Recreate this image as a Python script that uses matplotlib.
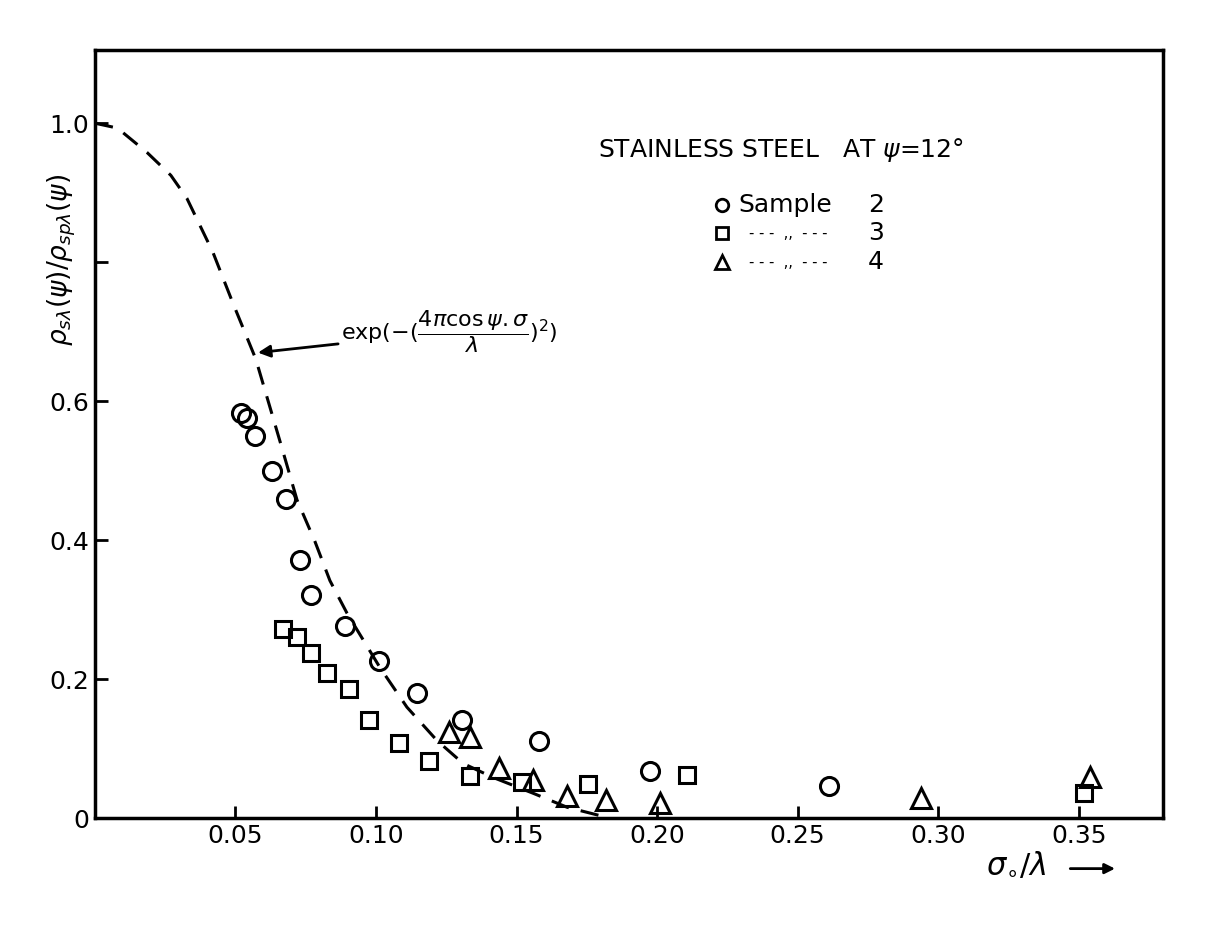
import matplotlib
matplotlib.use("Agg")
import matplotlib.pyplot as plt

# sample 2 (circles)
s2_x = [0.052, 0.054, 0.057, 0.063, 0.068, 0.073, 0.077, 0.089, 0.101,
        0.1146, 0.1306, 0.158, 0.1975, 0.261]
s2_y = [0.583, 0.576, 0.550, 0.500, 0.460, 0.372, 0.322, 0.277, 0.226,
        0.180, 0.142, 0.111, 0.068, 0.046]

# sample 3 (squares)
s3_x = [0.067, 0.072, 0.077, 0.0825, 0.0905, 0.0975, 0.108, 0.119,
        0.1335, 0.152, 0.1755, 0.2107, 0.352]
s3_y = [0.272, 0.261, 0.238, 0.209, 0.186, 0.141, 0.108, 0.083,
        0.061, 0.052, 0.049, 0.062, 0.036]

# sample 4 (triangles)
s4_x = [0.126, 0.1335, 0.1438, 0.156, 0.168, 0.182, 0.201, 0.294, 0.354]
s4_y = [0.124, 0.117, 0.072, 0.055, 0.032, 0.027, 0.022, 0.030, 0.060]

# dashed theory curve
curve_x = [0.0, 0.008, 0.0185, 0.027, 0.0327, 0.042, 0.049, 0.0572, 0.0663,
           0.0719, 0.0783, 0.0836, 0.0897, 0.1014, 0.111, 0.1217, 0.131,
           0.1416, 0.156, 0.168, 0.1797]
curve_y = [1.0, 0.993, 0.958, 0.925, 0.892, 0.814, 0.742, 0.661, 0.536,
           0.458, 0.398, 0.342, 0.295, 0.217, 0.160, 0.112, 0.079,
           0.059, 0.036, 0.016, 0.004]

xticks = [0.05, 0.10, 0.15, 0.20, 0.25, 0.30, 0.35]
xtick_labels = ['0.05', '0.10', '0.15', '0.20', '0.25', '0.30', '0.35']
yticks = [0.0, 0.2, 0.4, 0.6, 0.8, 1.0]
ytick_labels = ['0', '0.2', '0.4', '0.6', '', '1.0']

fig = plt.figure(figsize=(12.27, 9.30), dpi=100)
ax = fig.add_axes([0.0774, 0.12, 0.8704, 0.826])

ax.plot(curve_x, curve_y, 'k--', lw=2.2, dashes=(6, 4))
ax.plot(s2_x, s2_y, 'o', mfc='none', mec='k', ms=13, mew=2.2)
ax.plot(s3_x, s3_y, 's', mfc='none', mec='k', ms=11, mew=2.2)
ax.plot(s4_x, s4_y, '^', mfc='none', mec='k', ms=14, mew=2.2)

ax.set_xlim(0, 0.38)
ax.set_ylim(0, 1.105)
ax.set_xticks(xticks)
ax.set_xticklabels(xtick_labels)
ax.set_yticks(yticks)
ax.set_yticklabels(ytick_labels)
ax.tick_params(direction='in', length=9, width=2, labelsize=18, pad=4)
for sp in ax.spines.values():
    sp.set_linewidth(2.5)

ax.set_ylabel(r'$\rho_{s\lambda}(\psi)/\rho_{sp\lambda}(\psi)$', fontsize=19,
              labelpad=2)
ax.yaxis.set_label_coords(-0.016, 0.727)

# title and legend drawn by hand, as in the original
ax.text(0.471, 0.87, r'STAINLESS STEEL   AT $\psi$=12°',
        transform=ax.transAxes, fontsize=18, va='center', ha='left')
leg_y = [0.798, 0.762, 0.724]
ax.plot([0.587], [leg_y[0]], 'o', mfc='none', mec='k', ms=9, mew=2,
        transform=ax.transAxes, clip_on=False)
ax.plot([0.587], [leg_y[1]], 's', mfc='none', mec='k', ms=8, mew=2,
        transform=ax.transAxes, clip_on=False)
ax.plot([0.587], [leg_y[2]], '^', mfc='none', mec='k', ms=10, mew=2,
        transform=ax.transAxes, clip_on=False)
ax.text(0.602, leg_y[0], 'Sample', transform=ax.transAxes, fontsize=18,
        va='center')
ax.text(0.612, leg_y[1], '- - -  ,,  - - -', transform=ax.transAxes,
        fontsize=10.5, va='center')
ax.text(0.612, leg_y[2], '- - -  ,,  - - -', transform=ax.transAxes,
        fontsize=10.5, va='center')
for yy, n in zip(leg_y, ['2', '3', '4']):
    ax.text(0.724, yy, n, transform=ax.transAxes, fontsize=18, va='center')

ax.annotate(r'exp$(-(\dfrac{4\pi\cos\psi.\sigma}{\lambda})^2)$',
            xy=(0.058, 0.670), xytext=(0.0875, 0.70),
            fontsize=16, va='center', ha='left',
            arrowprops=dict(arrowstyle='-|>', lw=2, color='k',
                            mutation_scale=18, shrinkA=0, shrinkB=0))

# x label with arrow
fig.text(0.828, 0.070, r'$\sigma_{\circ}/\lambda$', fontsize=22,
         ha='center', va='center')
ax.annotate('', xy=(0.911, 0.066), xytext=(0.870, 0.066),
            xycoords='figure fraction', textcoords='figure fraction',
            arrowprops=dict(arrowstyle='-|>', lw=2, color='k',
                            mutation_scale=15))

fig.savefig('out.png', dpi=100)
